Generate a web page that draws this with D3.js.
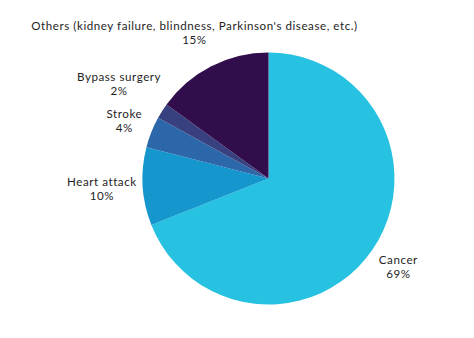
<!DOCTYPE html>
<html>
<head>
<meta charset="utf-8">
<script src="https://cdn.jsdelivr.net/npm/d3@7/dist/d3.min.js"></script>
<style>
  html, body { margin: 0; padding: 0; background: #fff; }
  svg text { font-family: Lato, "Open Sans", sans-serif; fill: #1e1e1e; letter-spacing: 0.55px; }
</style>
</head>
<body>
<svg id="chart" width="474" height="338"></svg>
<script>
// Causes, in clockwise order from 12 o'clock
const categories = [
  "Cancer",
  "Heart attack",
  "Stroke",
  "Bypass surgery",
  "Others (kidney failure, blindness, Parkinson's disease, etc.)"
];
const percentages = [69, 10, 4, 2, 15];
const sliceColors = ["#27c1e1", "#1597cd", "#2c68a9", "#38407f", "#310d4b"];

// Distance from the centre to each label's anchor point
const labelDistance = [157, 167, 155, 177, 163];

const svg = d3.select("#chart");
const cx = 268.5, cy = 178.5, radius = 126;
const lineGap = 14;
const fontSize = 11.6;

const data = categories.map((c, i) => ({ name: c, value: percentages[i], color: sliceColors[i], dist: labelDistance[i] }));

const pie = d3.pie().value(d => d.value).sort(null);
const arc = d3.arc().innerRadius(0).outerRadius(radius);
const arcs = pie(data);

const g = svg.append("g").attr("transform", `translate(${cx},${cy})`);

g.selectAll("path.slice")
  .data(arcs)
  .join("path")
  .attr("class", "slice")
  .attr("d", arc)
  .attr("fill", d => d.data.color);

const labels = g.selectAll("g.label")
  .data(arcs)
  .join("g")
  .attr("class", "label")
  .attr("transform", d => {
    const a = (d.startAngle + d.endAngle) / 2;
    const x = Math.sin(a) * d.data.dist;
    const y = -Math.cos(a) * d.data.dist;
    return `translate(${x},${y})`;
  });

labels.append("text")
  .attr("text-anchor", "middle")
  .attr("font-size", fontSize)
  .attr("y", -3)
  .text(d => d.data.name);

labels.append("text")
  .attr("text-anchor", "middle")
  .attr("font-size", fontSize)
  .attr("y", -3 + lineGap)
  .text(d => d.data.value + "%");
</script>
</body>
</html>
